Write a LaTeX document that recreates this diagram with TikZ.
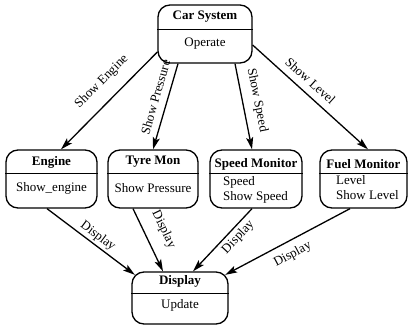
\documentclass[tikz,border=0pt]{standalone}
\usepackage{fontspec}
\setmainfont{Liberation Serif}
\usetikzlibrary{arrows.meta}

\begin{document}
\begin{tikzpicture}[x=1pt,y=-1pt,>={Stealth[length=12pt,width=7pt,inset=2.5pt]},
  class/.style={draw,line width=1.3pt,rounded corners=12pt,inner sep=0pt},
  divider/.style={line width=0.9pt},
  title/.style={font=\fontsize{13}{15}\selectfont\bfseries,inner sep=0pt},
  oper/.style={font=\fontsize{13}{15}\selectfont,inner sep=0pt,align=left},
  link/.style={->,line width=1.3pt},
  lbl/.style={font=\fontsize{13}{15}\selectfont,sloped,inner sep=0pt}]
\useasboundingbox (0,0) rectangle (409,326);

% The top class
\node[class,minimum width=94pt,minimum height=58pt] (car) at (205,34) {};
\draw[divider] (car.west |- 0,29) -- (car.east |- 0,29);
\node[title] (cart) at (205,17) {Car System};
\node[oper] (caro) at (205,44) {Operate};

% The four monitors
\node[class,minimum width=91pt,minimum height=58pt] (engine) at (51.5,179) {};
\draw[divider] (engine.west |- 0,173) -- (engine.east |- 0,173);
\node[title] (enginet) at (51.5,162) {Engine};
\node[oper] (engineo) at (51.5,188) {Show\_engine};

\node[class,minimum width=90pt,minimum height=58pt] (tyre) at (153,179) {};
\draw[divider] (tyre.west |- 0,173) -- (tyre.east |- 0,173);
\node[title] (tyret) at (153,162) {Tyre Mon};
\node[oper] (tyreo) at (153,188) {Show Pressure};

\node[class,minimum width=92pt,minimum height=58pt] (speed) at (256,179) {};
\draw[divider] (speed.west |- 0,173) -- (speed.east |- 0,173);
\node[title] (speedt) at (256,164) {Speed Monitor};
\node[oper,anchor=west] (speedo) at (223,189.5) {Speed\\Show Speed};

\node[class,minimum width=87pt,minimum height=58pt] (fuel) at (363.5,179) {};
\draw[divider] (fuel.west |- 0,173) -- (fuel.east |- 0,173);
\node[title] (fuelt) at (363.5,164) {Fuel Monitor};
\node[oper,anchor=west] (fuelo) at (336,188) {Level\\Show Level};

% The display
\node[class,minimum width=96pt,minimum height=52pt] (disp) at (180,298) {};
\draw[divider] (disp.west |- 0,293) -- (disp.east |- 0,293);
\node[title] (dispt) at (180,281) {Display};
\node[oper] (dispo) at (180,305) {Update};

% Show links
\draw[link] ([yshift=-18pt]car.west) -- ([xshift=9.5pt]engine.north)
  node[lbl,above=12pt,pos=0.44] {Show Engine};
\draw[link] ([xshift=-27pt]car.south) -- (tyre.north)
  node[lbl,above=7pt,pos=0.43] {Show Pressure};
\draw[link] ([xshift=30pt]car.south) -- ([xshift=-4pt]speed.north)
  node[lbl,above=8pt,pos=0.46] {Show Speed};
\draw[link] ([yshift=-11pt]car.east) -- ([xshift=4.5pt]fuel.north)
  node[lbl,above=7pt,pos=0.43] {Show Level};

% Display links
\draw[link] ([xshift=-4.5pt]engine.south) -- ([xshift=3.5pt,yshift=-3.5pt]disp.north west)
  node[lbl,above=2pt,pos=0.52] {Display};
\draw[link] ([xshift=-20pt]tyre.south) -- ([xshift=-17pt]disp.north)
  node[lbl,above=12pt,pos=0.46] {Display};
\draw[link] ([xshift=-4pt]speed.south) -- ([xshift=13pt]disp.north)
  node[lbl,below=3pt,pos=0.35] {Display};
\draw[link] ([xshift=-13.5pt]fuel.south) -- ([xshift=-3.5pt,yshift=-3.5pt]disp.north east)
  node[lbl,below=7pt,pos=0.51] {Display};
\end{tikzpicture}
\end{document}
